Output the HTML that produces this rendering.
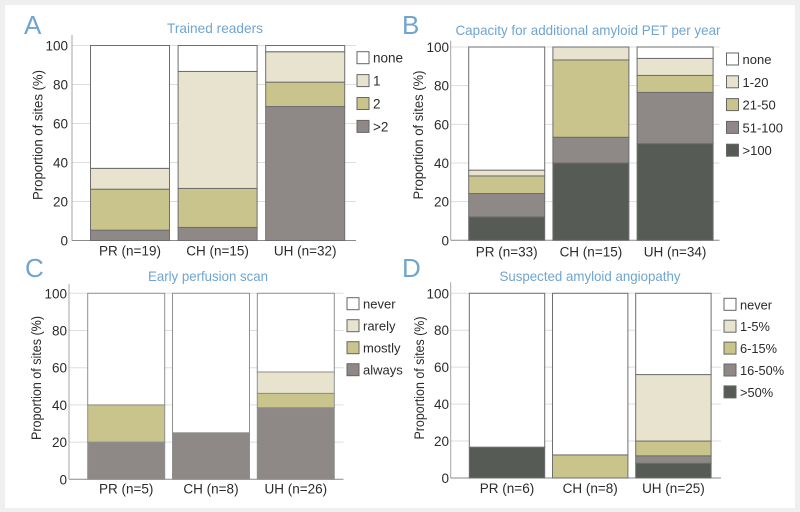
<!DOCTYPE html>
<html lang="en">
<head>
<meta charset="utf-8">
<title>Amyloid PET site survey</title>
<style>
html,body{margin:0;padding:0;background:#efefef;width:800px;height:512px;overflow:hidden}
svg{display:block;font-family:"Liberation Sans",sans-serif;filter:blur(0.3px)}
</style>
</head>
<body>
<svg id="figure" width="800" height="512" viewBox="0 0 800 512" xmlns="http://www.w3.org/2000/svg">
<rect x="5" y="5" width="790" height="503" fill="#ffffff"/>
</svg>
<script>
const tickValues = [0, 20, 40, 60, 80, 100];

const categoriesA = ["PR (n=19)", "CH (n=15)", "UH (n=32)"];
const seriesA = [">2", "2", "1", "none"];
const valuesA = [
  [5.3, 6.7, 68.7],
  [21, 20, 12.5],
  [10.7, 60, 15.6],
  [63, 13.3, 3.2]
];

const categoriesB = ["PR (n=33)", "CH (n=15)", "UH (n=34)"];
const seriesB = [">100", "51-100", "21-50", "1-20", "none"];
const valuesB = [
  [12.1, 40, 50],
  [12.1, 13.3, 26.5],
  [9.1, 40, 8.8],
  [3, 6.7, 8.8],
  [63.7, 0, 5.9]
];

const categoriesC = ["PR (n=5)", "CH (n=8)", "UH (n=26)"];
const seriesC = ["always", "mostly", "rarely", "never"];
const valuesC = [
  [20, 25, 38.5],
  [20, 0, 7.7],
  [0, 0, 11.5],
  [60, 75, 42.3]
];

const categoriesD = ["PR (n=6)", "CH (n=8)", "UH (n=25)"];
const seriesD = [">50%", "16-50%", "6-15%", "1-5%", "never"];
const valuesD = [
  [16.7, 0, 8],
  [0, 0, 4],
  [0, 12.5, 8],
  [0, 0, 36],
  [83.3, 87.5, 44]
];

const NS = "http://www.w3.org/2000/svg";
const figure = document.getElementById("figure");
const blue = "#6fa5d0";
const ink = "#2b2b2b";
const fills = {
  white: "#ffffff", cream: "#e8e3cf", olive: "#c9c48b", gray: "#8e8987", dark: "#565b56"
};

function mk(tag, attrs, parent, text) {
  const el = document.createElementNS(NS, tag);
  for (const k in attrs) el.setAttribute(k, attrs[k]);
  if (text !== undefined) el.textContent = text;
  parent.appendChild(el);
  return el;
}

function drawPanel(p) {
  const g = mk("g", {}, figure);
  
  

  const yScale = v => p.y0 - (v / 100) * (p.y0 - p.y100);

  const letter = mk("text", {x: p.letterX, y: p.letterY, "font-size": 26, fill: blue}, g, p.letter);
  
  

  const title = mk("text", {x: p.titleX, y: p.titleY, "font-size": 14, fill: blue, "text-anchor": "middle",
    textLength: p.titleLen, lengthAdjust: "spacingAndGlyphs"}, g, p.title);
  
  

  tickValues.forEach(t => {
    const y = yScale(t);
    if (t > 0) {
      const grid = mk("line", {x1: p.axisX, x2: p.axisEnd, y1: y, y2: y, stroke: "#dddddd", "stroke-width": 1}, g);
      
      
    }
    const label = mk("text", {x: p.tickX, y: y + 5, "font-size": 13.5, fill: ink, "text-anchor": "end"}, g, String(t));
    
    
  });

  const yAxis = mk("line", {x1: p.axisX, x2: p.axisX, y1: p.axisTop, y2: p.y0, stroke: "#a5a5a5", "stroke-width": 1}, g);
  
  

  const xAxis = mk("line", {x1: p.axisX, x2: p.axisEnd, y1: p.y0, y2: p.y0, stroke: "#8a8a8a", "stroke-width": 1}, g);
  
  

  const yTitle = mk("text", {transform: "translate(" + p.yTitleX + "," + p.yTitleY + ") rotate(-90)",
    "font-size": 13.5, fill: ink, "text-anchor": "middle", textLength: p.yTitleLen, lengthAdjust: "spacingAndGlyphs"}, g, "Proportion of sites (%)");
  
  

  p.categories.forEach((cat, c) => {
    const bx = p.barX + c * p.barStep;
    let acc = 0;
    p.series.forEach((name, s) => {
      const v = p.values[s][c];
      if (v <= 0) return;
      const top = yScale(acc + v), bottom = yScale(acc);
      acc += v;
      const seg = mk("rect", {x: bx, y: top, width: p.barW, height: bottom - top,
        fill: fills[p.fillKeys[s]], stroke: p.barStroke, "stroke-width": 1}, g);
      
      
    });
    const catLabel = mk("text", {x: bx + p.barW / 2, y: p.catY, "font-size": 13.5, fill: ink, "text-anchor": "middle"}, g, cat);
    
    
  });

  const legend = mk("g", {}, g);
  
  
  const order = p.series.map((n, i) => i).reverse();
  order.forEach((s, row) => {
    const cy = p.legendY + row * p.legendStep;
    const swatch = mk("rect", {x: p.legendX, y: cy - 6, width: 12, height: 12,
      fill: fills[p.fillKeys[s]], stroke: "#666666", "stroke-width": 1}, legend);
    
    
    const lbl = mk("text", {x: p.legendX + 16, y: cy + 5, "font-size": p.legendFont, fill: ink}, legend, p.series[s]);
    
    
  });
}

drawPanel({
  id: "a", letter: "A", letterX: 24, letterY: 34,
  title: "Trained readers", titleX: 215, titleY: 33, titleLen: 96,
  categories: categoriesA, series: seriesA, values: valuesA,
  fillKeys: ["gray", "olive", "cream", "white"], barStroke: "#6e6e6e",
  axisX: 72, axisEnd: 356, axisTop: 35, y0: 240.5, y100: 45.5, tickX: 68,
  yTitleX: 42.5, yTitleY: 135, yTitleLen: 130,
  barX: 90.5, barW: 79, barStep: 87.6, catY: 255.5,
  legendX: 357, legendY: 57.7, legendStep: 22.9, legendFont: 13.5
});

drawPanel({
  id: "b", letter: "B", letterX: 402, letterY: 34,
  title: "Capacity for additional amyloid PET per year", titleX: 588, titleY: 35, titleLen: 265,
  categories: categoriesB, series: seriesB, values: valuesB,
  fillKeys: ["dark", "gray", "olive", "cream", "white"], barStroke: "#6e6e6e",
  axisX: 450.7, axisEnd: 719.5, axisTop: 40.7, y0: 240.3, y100: 47, tickX: 449,
  yTitleX: 423, yTitleY: 135, yTitleLen: 129,
  barX: 468.7, barW: 76, barStep: 84.2, catY: 256.7,
  legendX: 726.5, legendY: 59, legendStep: 22.8, legendFont: 13
});

drawPanel({
  id: "c", letter: "C", letterX: 25, letterY: 277,
  title: "Early perfusion scan", titleX: 208, titleY: 281, titleLen: 120,
  categories: categoriesC, series: seriesC, values: valuesC,
  fillKeys: ["gray", "olive", "cream", "white"], barStroke: "#8f8f8f",
  axisX: 69, axisEnd: 343.5, axisTop: 284, y0: 479.3, y100: 293.3, tickX: 67,
  yTitleX: 41, yTitleY: 378, yTitleLen: 124,
  barX: 87.7, barW: 77, barStep: 84.8, catY: 493.7,
  legendX: 347, legendY: 303.7, legendStep: 22, legendFont: 13
});

drawPanel({
  id: "d", letter: "D", letterX: 402, letterY: 277,
  title: "Suspected amyloid angiopathy", titleX: 590, titleY: 281, titleLen: 181,
  categories: categoriesD, series: seriesD, values: valuesD,
  fillKeys: ["dark", "gray", "olive", "cream", "white"], barStroke: "#6e6e6e",
  axisX: 450.7, axisEnd: 721, axisTop: 282.3, y0: 478, y100: 293.3, tickX: 449,
  yTitleX: 424, yTitleY: 378, yTitleLen: 123,
  barX: 469.3, barW: 75.4, barStep: 83.2, catY: 493,
  legendX: 724, legendY: 304.3, legendStep: 21.9, legendFont: 12.8
});
</script>
</body>
</html>
